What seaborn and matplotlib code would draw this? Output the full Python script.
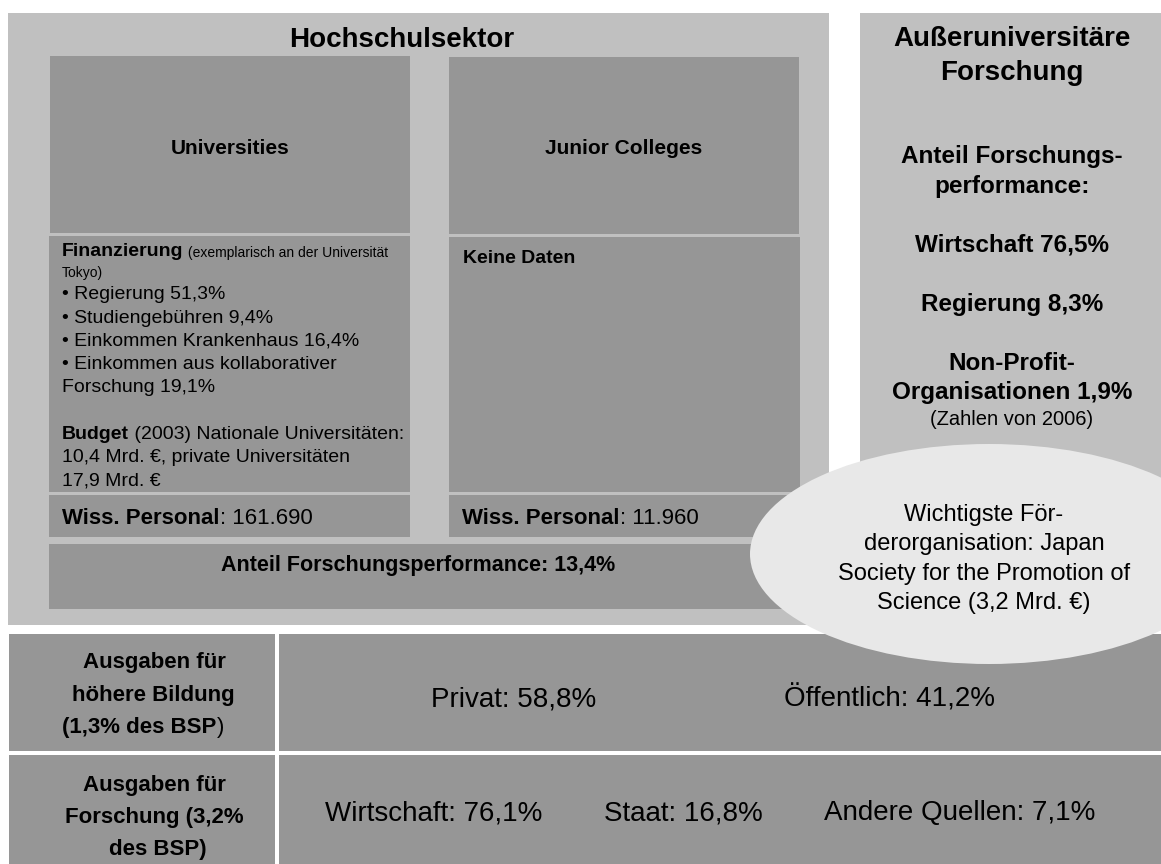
import matplotlib
matplotlib.use("Agg")
import matplotlib.pyplot as plt
from matplotlib.patches import Rectangle, Ellipse
import seaborn as sns

# ------------------------------------------------------------------ data
sector_title = "Hochschulsektor"
institution_types = ["Universities", "Junior Colleges"]
funding_head = "Finanzierung"
funding_note = ["(exemplarisch an der Universität", "Tokyo)"]
funding_sources = ["Regierung", "Studiengebühren", "Einkommen Krankenhaus",
                   "Einkommen aus kollaborativer\nForschung"]
funding_shares = [51.3, 9.4, 16.4, 19.1]
budget_head = "Budget"
budget_lines = [" (2003) Nationale Universitäten:",
                "10,4 Mrd. €, private Universitäten",
                "17,9 Mrd. €"]
jc_note = "Keine Daten"
staff_label = "Wiss. Personal"
staff_values = ["161.690", "11.960"]
hs_share_label = "Anteil Forschungsperformance"
hs_share_value = 13.4

ext_title = ["Außeruniversitäre", "Forschung"]
ext_share_head = ["Anteil Forschungs-", "performance:"]
ext_sectors = ["Wirtschaft", "Regierung", "Non-Profit-\nOrganisationen"]
ext_shares = [76.5, 8.3, 1.9]
ext_note = "(Zahlen von 2006)"

funding_org_lines = ["Wichtigste För-", "derorganisation: Japan",
                     "Society for the Promotion of", "Science (3,2 Mrd. €)"]

row_labels = [["Ausgaben für", "höhere Bildung", "(1,3% des BSP|)"],
              ["Ausgaben für", "Forschung (3,2%", "des BSP)"]]
edu_sources = ["Privat", "Öffentlich"]
edu_shares = [58.8, 41.2]
res_sources = ["Wirtschaft", "Staat", "Andere Quellen"]
res_shares = [76.1, 16.8, 7.1]


def pct(v):
    return f"{v:.1f}".replace(".", ",") + "%"


# ------------------------------------------------------------------ style
sns.set_theme(style="white")
plt.rcParams["font.family"] = ["Liberation Sans", "DejaVu Sans"]

LIGHT = "#c0c0c0"
DARK = "#969696"
PALE = "#e8e8e8"

W, H = 1161, 864
fig = plt.figure(figsize=(W / 100, H / 100), dpi=100)
fig.patch.set_facecolor("white")
ax = fig.add_axes([0, 0, 1, 1])
ax.set_xlim(0, W)
ax.set_ylim(H, 0)
ax.axis("off")
renderer = fig.canvas.get_renderer()


def box(x0, y0, x1, y1, color, z=1):
    ax.add_patch(Rectangle((x0, y0), x1 - x0, y1 - y0, facecolor=color,
                           edgecolor="none", zorder=z))


def txt(x, y, s, size, bold=False, ha="center", z=3):
    return ax.text(x, y, s, fontsize=size, fontweight="bold" if bold else "normal",
                   ha=ha, va="baseline", color="black", zorder=z)


def runs(x, y, parts, z=3):
    for s, size, bold in parts:
        t = txt(x, y, s, size, bold, ha="left", z=z)
        x += t.get_window_extent(renderer).width


def centered_runs(xc, y, parts, z=3):
    total = 0
    for s, size, bold in parts:
        t = txt(0, y, s, size, bold, ha="left", z=z)
        total += t.get_window_extent(renderer).width
        t.remove()
    runs(xc - total / 2, y, parts, z)


# ------------------------------------------------------------------ boxes
box(8, 13, 829, 625, LIGHT)            # Hochschulsektor
box(860, 13, W, 625, LIGHT)            # Außeruniversitäre Forschung

box(50, 56, 410, 233, DARK)            # Universities header
box(49, 236, 410, 492, DARK)           # Finanzierung
box(49, 495, 410, 537, DARK)           # staff
box(449, 57, 799, 234, DARK)           # Junior Colleges header
box(449, 237, 800, 492, DARK)          # Keine Daten
box(449, 495, 800, 537, DARK)          # staff
box(49, 544, 800, 609, DARK)           # research share

box(9, 634, 275, 751, DARK)            # bottom table
box(279, 634, W, 751, DARK)
box(9, 755, 275, H, DARK)
box(279, 755, W, H, DARK)

# ------------------------------------------------------------------ texts: Hochschulsektor
txt(402, 47, sector_title, 20, bold=True)
txt(230, 154, institution_types[0], 15, bold=True)
txt(624, 154, institution_types[1], 15, bold=True)

runs(62, 256.5, [(funding_head, 14, True), (" " + funding_note[0], 10, False)])
txt(62, 276.5, funding_note[1], 10, ha="left")

fund_lines = []
for src, sh in zip(funding_sources, funding_shares):
    parts = src.split("\n")
    parts[-1] = parts[-1] + " " + pct(sh)
    parts[0] = "• " + parts[0]
    fund_lines.extend(parts)
for i, line in enumerate(fund_lines):
    txt(62, 299.3 + i * 23.25, line, 14, ha="left")

runs(62, 439, [(budget_head, 14, True), (budget_lines[0], 14, False)])
txt(62, 462.3, budget_lines[1], 14, ha="left")
txt(62, 485.7, budget_lines[2], 14, ha="left")

txt(463, 263.3, jc_note, 14, bold=True, ha="left")

runs(62, 523.5, [(staff_label, 16, True), (": " + staff_values[0], 16, False)])
runs(462, 523.5, [(staff_label, 16, True), (": " + staff_values[1], 16, False)])

txt(418.5, 571.5, f"{hs_share_label}: {pct(hs_share_value)}", 15.5, bold=True)

# ------------------------------------------------------------------ texts: right box
cx = 1012
txt(cx, 46, ext_title[0], 20, bold=True)
txt(cx, 80, ext_title[1], 20, bold=True)
txt(cx, 163, ext_share_head[0], 17.5, bold=True)
txt(cx, 193, ext_share_head[1], 17.5, bold=True)
ext_y = [[251.5], [311], [370, 399.5]]
for sec, sh, ys in zip(ext_sectors, ext_shares, ext_y):
    parts = sec.split("\n")
    parts[-1] = parts[-1] + " " + pct(sh)
    for s, yy in zip(parts, ys):
        txt(cx, yy, s, 17.5, bold=True)
txt(cx, 425, ext_note, 14.5)

# ------------------------------------------------------------------ bottom table
label_x = [[154, 153, 143], [154, 154, 158]]
label_y = [[668, 701, 733], [791, 823, 855]]
for lines, xs, ys in zip(row_labels, label_x, label_y):
    for s, xx, yy in zip(lines, xs, ys):
        if "|" in s:
            bold_part, plain_part = s.split("|")
            centered_runs(xx, yy, [(bold_part, 16, True), (plain_part, 16, False)])
        else:
            txt(xx, yy, s, 16, bold=True)

for name, v, xx in zip(edu_sources, edu_shares, [514, 890]):
    txt(xx, 707, f"{name}: {pct(v)}", 20)
for name, v, xx in zip(res_sources, res_shares, [434, 683, 960]):
    txt(xx, 820, f"{name}: {pct(v)}", 20)

# ------------------------------------------------------------------ ellipse
ax.add_patch(Ellipse((989, 554), 478, 220, facecolor=PALE, edgecolor="none", zorder=4))
for i, s in enumerate(funding_org_lines):
    txt(984, 521 + i * 29.3, s, 17, z=5)

fig.savefig("out.png", dpi=100, facecolor="white")
